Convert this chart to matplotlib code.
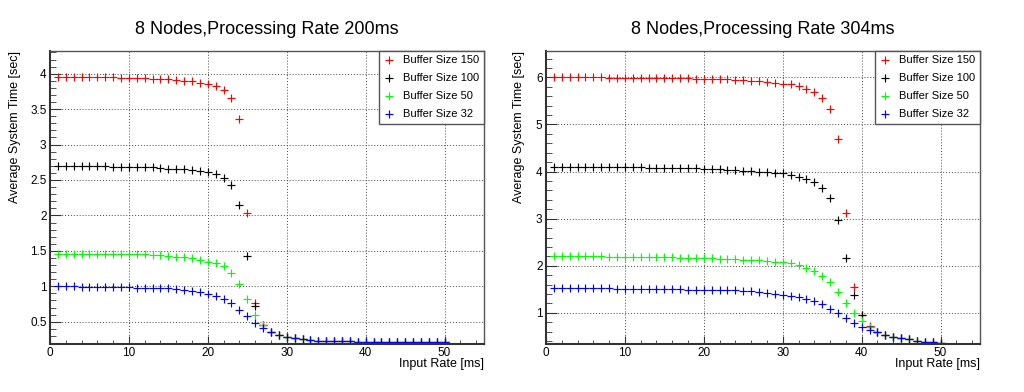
import numpy as np
import matplotlib
matplotlib.use("Agg")
import matplotlib.pyplot as plt
from matplotlib.ticker import MultipleLocator

plt.rcParams['font.family'] = ['Liberation Sans', 'DejaVu Sans']

# ----------------------------------------------------------------------
# Data
# ----------------------------------------------------------------------
input_rate = list(range(1, 51))
labels = ["Buffer Size 150", "Buffer Size 100", "Buffer Size 50", "Buffer Size 32"]
colors = ["#ff0000", "#000000", "#00ff00", "#0000ff"]

# 200 ms processing rate
tail_200 = [0.266, 0.252, 0.243, 0.235, 0.230, 0.226, 0.224, 0.222, 0.220, 0.219,
            0.217, 0.216, 0.215, 0.214, 0.213, 0.212, 0.212, 0.211, 0.211, 0.210]
blue_200 = [1.00, 1.00, 1.00, 0.99, 0.99, 0.99, 0.99, 0.99, 0.99, 0.99,
            0.98, 0.98, 0.98, 0.97, 0.97, 0.96, 0.95, 0.94, 0.92, 0.89,
            0.86, 0.82, 0.76, 0.67, 0.575, 0.48, 0.41, 0.35, 0.31, 0.28] + tail_200
green_200 = [1.46, 1.46, 1.46, 1.46, 1.46, 1.46, 1.45, 1.45, 1.45, 1.45,
             1.45, 1.45, 1.44, 1.44, 1.43, 1.42, 1.41, 1.40, 1.37, 1.35,
             1.33, 1.28, 1.19, 1.03, 0.82, 0.60, 0.45, 0.36, 0.31, 0.28] + tail_200
black_200 = [2.70, 2.70, 2.70, 2.70, 2.70, 2.70, 2.70, 2.69, 2.69, 2.69,
             2.69, 2.68, 2.68, 2.67, 2.66, 2.66, 2.65, 2.64, 2.62, 2.61,
             2.58, 2.53, 2.43, 2.15, 1.43, 0.72, 0.45, 0.36, 0.31, 0.28] + tail_200
red_200 = [3.95, 3.95, 3.95, 3.95, 3.95, 3.95, 3.95, 3.95, 3.94, 3.94,
           3.94, 3.94, 3.93, 3.93, 3.92, 3.91, 3.90, 3.89, 3.87, 3.85,
           3.82, 3.77, 3.66, 3.36, 2.04, 0.77, 0.45, 0.36, 0.31, 0.28] + tail_200

# 304 ms processing rate
tail_304 = [0.53, 0.49, 0.46, 0.44, 0.41, 0.39, 0.38, 0.36]
blue_304 = [1.53, 1.53, 1.52, 1.52, 1.52, 1.52, 1.52, 1.52, 1.51, 1.51,
            1.51, 1.51, 1.51, 1.50, 1.50, 1.50, 1.50, 1.49, 1.49, 1.49,
            1.49, 1.48, 1.48, 1.48, 1.47, 1.46, 1.44, 1.42, 1.41, 1.39,
            1.36, 1.33, 1.30, 1.25, 1.18, 1.09, 0.99, 0.89, 0.79, 0.70,
            0.63, 0.59] + tail_304
green_304 = [2.20, 2.20, 2.20, 2.20, 2.20, 2.20, 2.20, 2.19, 2.19, 2.19,
             2.19, 2.19, 2.18, 2.18, 2.18, 2.18, 2.17, 2.17, 2.17, 2.16,
             2.16, 2.15, 2.15, 2.14, 2.13, 2.13, 2.12, 2.10, 2.09, 2.08,
             2.05, 2.01, 1.96, 1.89, 1.79, 1.65, 1.45, 1.22, 0.99, 0.82,
             0.70, 0.60] + tail_304
black_304 = [4.10, 4.10, 4.10, 4.10, 4.10, 4.10, 4.10, 4.09, 4.09, 4.09,
             4.09, 4.09, 4.08, 4.08, 4.08, 4.08, 4.07, 4.07, 4.07, 4.06,
             4.06, 4.05, 4.04, 4.03, 4.02, 4.01, 4.00, 3.99, 3.98, 3.97,
             3.93, 3.89, 3.85, 3.78, 3.66, 3.43, 2.98, 2.17, 1.38, 0.95,
             0.71, 0.60] + tail_304
red_304 = [6.00, 6.00, 6.00, 6.00, 6.00, 6.00, 6.00, 5.99, 5.99, 5.99,
           5.99, 5.99, 5.99, 5.99, 5.99, 5.98, 5.98, 5.98, 5.97, 5.97,
           5.97, 5.96, 5.96, 5.95, 5.94, 5.93, 5.92, 5.90, 5.89, 5.87,
           5.85, 5.81, 5.76, 5.69, 5.56, 5.32, 4.69, 3.13, 1.56, 0.95,
           0.72, 0.60] + tail_304

# ----------------------------------------------------------------------
# Plot
# ----------------------------------------------------------------------
fig = plt.figure(figsize=(10.24, 3.92), dpi=100)

panels = [
    dict(rect=[50 / 1024, 48 / 392, 434 / 1024, 293 / 392],
         title="8 Nodes,Processing Rate 200ms",
         series=[red_200, black_200, green_200, blue_200],
         ylim=(0.186, 4.32), ymaj=0.5, ymin=0.1, ylab_x=-0.067),
    dict(rect=[546 / 1024, 48 / 392, 434 / 1024, 293 / 392],
         title="8 Nodes,Processing Rate 304ms",
         series=[red_304, black_304, green_304, blue_304],
         ylim=(0.34, 6.56), ymaj=1, ymin=0.2, ylab_x=-0.048),
]

for p in panels:
    ax = fig.add_axes(p["rect"])
    for vals, lab, col in zip(p["series"], labels, colors):
        ax.plot(input_rate, vals, linestyle="none", marker="+",
                markersize=6, markeredgewidth=0.85, color=col, label=lab)

    ax.set_xlim(0, 55)
    ax.set_ylim(*p["ylim"])
    ax.xaxis.set_major_locator(MultipleLocator(10))
    ax.xaxis.set_minor_locator(MultipleLocator(2))
    ax.yaxis.set_major_locator(MultipleLocator(p["ymaj"]))
    ax.yaxis.set_minor_locator(MultipleLocator(p["ymin"]))
    ax.yaxis.set_major_formatter(plt.FuncFormatter(lambda v, _: f"{v:g}"))

    # ROOT-like axes: inward ticks on bottom/left only
    ax.tick_params(axis="both", which="both", direction="in", color="#333333",
                   labelsize=8.5, top=False, right=False)
    ax.tick_params(axis="x", which="major", length=6, pad=2.5)
    ax.tick_params(axis="x", which="minor", length=3)
    ax.tick_params(axis="y", which="major", length=8, pad=2.5)
    ax.tick_params(axis="y", which="minor", length=4)

    for side in ("left", "bottom"):
        ax.spines[side].set_linewidth(1.5)
        ax.spines[side].set_color("#333333")
    for side in ("top", "right"):
        ax.spines[side].set_linewidth(1.0)
        ax.spines[side].set_color("#555555")

    ax.grid(True, which="major", color="#444444", linestyle=(0, (1, 2)),
            linewidth=0.7)

    ax.set_title(p["title"], fontsize=13, pad=12)
    ax.set_xlabel("Input Rate [ms]", fontsize=9, loc="right")
    ax.xaxis.set_label_coords(1.0, -0.047)
    ax.set_ylabel("Average System Time [sec]", fontsize=9, loc="top")
    ax.yaxis.set_label_coords(p["ylab_x"], 1.0)

    leg = ax.legend(loc="upper right", bbox_to_anchor=(1.0, 1.0),
                    borderaxespad=0, fontsize=8, fancybox=False,
                    framealpha=1, edgecolor="#555555", handlelength=1.0,
                    handletextpad=0.8, labelspacing=0.72, borderpad=0.4,
                    numpoints=1)
    leg.get_frame().set_linewidth(1.0)

fig.savefig("out.png", dpi=100)
